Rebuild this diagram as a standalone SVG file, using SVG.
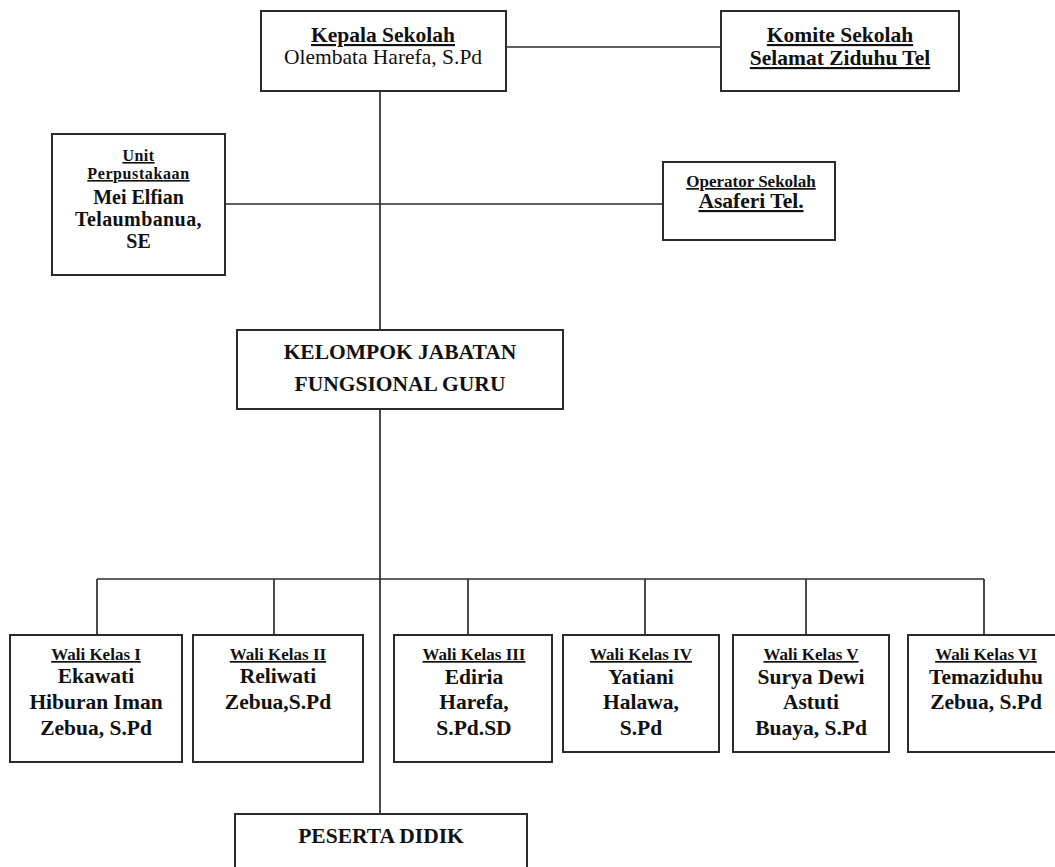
<svg xmlns="http://www.w3.org/2000/svg" width="1055" height="867" viewBox="0 0 1055 867">
<style>
.box{fill:#fff;stroke:#2b2b2b;stroke-width:2}
.ln{fill:none;stroke:#2b2b2b;stroke-width:1.7}
text{font-family:"Times New Roman","Liberation Serif",serif;fill:#111;text-anchor:middle}
.b{font-weight:700;font-size:21.5px}
.r{font-size:21.5px}
.s{font-weight:700;font-size:17px}
.u{text-decoration:underline}
.n{font-weight:700;font-size:20px}
</style>
<rect width="1055" height="867" fill="#fff"/>
<g id="connectors">
<line class="ln" x1="506" y1="47" x2="721" y2="47"/>
<line class="ln" x1="380" y1="91" x2="380" y2="330"/>
<line class="ln" x1="225" y1="204" x2="663" y2="204"/>
<line class="ln" x1="380" y1="409" x2="380" y2="814"/>
<line class="ln" x1="97" y1="579" x2="984" y2="579"/>
<line class="ln" x1="97" y1="579" x2="97" y2="635"/>
<line class="ln" x1="274" y1="579" x2="274" y2="635"/>
<line class="ln" x1="468" y1="579" x2="468" y2="635"/>
<line class="ln" x1="645" y1="579" x2="645" y2="635"/>
<line class="ln" x1="806" y1="579" x2="806" y2="635"/>
<line class="ln" x1="984" y1="579" x2="984" y2="635"/>
</g>
<g id="kepala">
<rect class="box" x="261" y="11" width="245" height="80"/>
<text class="b u" x="383" y="42">Kepala Sekolah</text>
<text class="r" x="383" y="64">Olembata Harefa, S.Pd</text>
</g>
<g id="komite">
<rect class="box" x="721" y="11" width="238" height="80"/>
<text class="b u" x="840" y="42">Komite Sekolah</text>
<text class="b u" x="840" y="65">Selamat Ziduhu Tel</text>
</g>
<g id="perpustakaan">
<rect class="box" x="52" y="134" width="173" height="141"/>
<text class="s u" x="138.5" y="161" style="font-size:16px;letter-spacing:0.5px">Unit</text>
<text class="s u" x="138.5" y="179" style="font-size:16px;letter-spacing:0.6px">Perpustakaan</text>
<text class="n" x="138.5" y="204">Mei Elfian</text>
<text class="n" x="138.5" y="226" style="letter-spacing:0.4px">Telaumbanua,</text>
<text class="n" x="138.5" y="248">SE</text>
</g>
<g id="operator">
<rect class="box" x="663" y="162" width="172" height="78"/>
<text class="s u" x="751" y="187">Operator Sekolah</text>
<text class="b u" x="751" y="208">Asaferi Tel.</text>
</g>
<g id="kelompok">
<rect class="box" x="237" y="330" width="326" height="79"/>
<text class="b" x="400" y="359">KELOMPOK JABATAN</text>
<text class="b" x="400" y="391">FUNGSIONAL GURU</text>
</g>
<g id="wali1">
<rect class="box" x="10" y="635" width="172" height="127"/>
<text class="s u" x="96" y="660">Wali Kelas I</text>
<text class="b" x="96" y="683">Ekawati</text>
<text class="b" x="96" y="709">Hiburan Iman</text>
<text class="b" x="96" y="735">Zebua, S.Pd</text>
</g>
<g id="wali2">
<rect class="box" x="193" y="635" width="170" height="127"/>
<text class="s u" x="278" y="660">Wali Kelas II</text>
<text class="b" x="278" y="683">Reliwati</text>
<text class="b" x="278" y="709">Zebua,S.Pd</text>
</g>
<g id="wali3">
<rect class="box" x="394" y="635" width="158" height="127"/>
<text class="s u" x="474" y="660">Wali Kelas III</text>
<text class="b" x="474" y="684">Ediria</text>
<text class="b" x="474" y="709">Harefa,</text>
<text class="b" x="474" y="735">S.Pd.SD</text>
</g>
<g id="wali4">
<rect class="box" x="563" y="635" width="156" height="117"/>
<text class="s u" x="641" y="660">Wali Kelas IV</text>
<text class="b" x="641" y="684">Yatiani</text>
<text class="b" x="641" y="709">Halawa,</text>
<text class="b" x="641" y="735">S.Pd</text>
</g>
<g id="wali5">
<rect class="box" x="733" y="635" width="156" height="117"/>
<text class="s u" x="811" y="660">Wali Kelas V</text>
<text class="b" x="811" y="684">Surya Dewi</text>
<text class="b" x="811" y="709">Astuti</text>
<text class="b" x="811" y="735">Buaya, S.Pd</text>
</g>
<g id="wali6">
<rect class="box" x="908" y="635" width="156" height="117"/>
<text class="s u" x="986" y="660">Wali Kelas VI</text>
<text class="b" x="986" y="684">Temaziduhu</text>
<text class="b" x="986" y="709">Zebua, S.Pd</text>
</g>
<g id="peserta">
<rect class="box" x="235" y="814" width="292" height="80"/>
<text class="b" x="381" y="843">PESERTA DIDIK</text>
</g>
</svg>
